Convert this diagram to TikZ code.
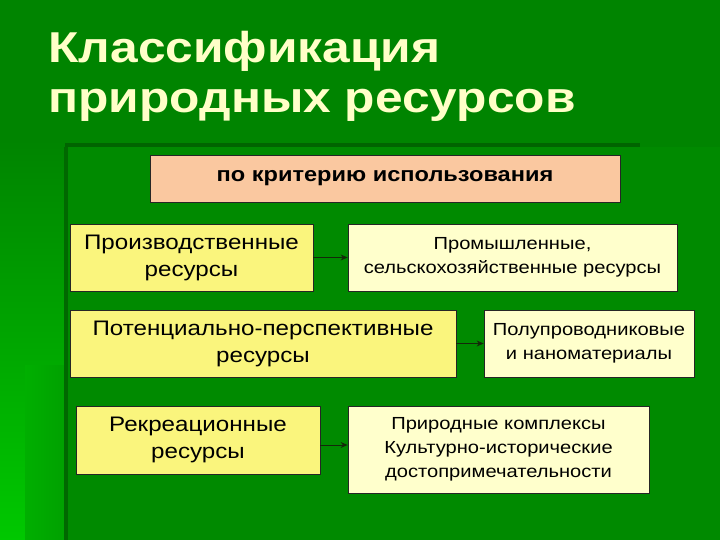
\documentclass[tikz,border=0pt]{standalone}
\usepackage{fontspec}
\setmainfont[FakeStretch=1.15]{Liberation Sans}
\usetikzlibrary{arrows.meta}
\definecolor{bgdark}{RGB}{0,132,0}
\definecolor{bgpanel}{RGB}{0,138,0}
\definecolor{bgline}{RGB}{0,100,0}
\definecolor{bgbright}{RGB}{0,200,0}
\definecolor{bgmid}{RGB}{0,175,0}
\definecolor{bgmid2}{RGB}{0,160,0}
\definecolor{titlecol}{RGB}{255,255,200}
\definecolor{peach}{RGB}{250,200,160}
\definecolor{yel}{RGB}{250,245,125}
\definecolor{lyel}{RGB}{255,255,204}
\definecolor{arrowcol}{RGB}{20,40,10}
\tikzset{
  box/.style={draw=black!85, line width=0.8pt, rectangle, align=center, inner sep=2pt},
  lbox/.style={box, fill=yel, font=\fontsize{21}{27}\selectfont},
  rbox/.style={box, fill=lyel, font=\fontsize{17.5}{24}\selectfont},
  headbox/.style={box, fill=peach, font=\bfseries\fontsize{20.5}{24}\selectfont},
  conn/.style={draw=arrowcol, line width=1pt, -{Stealth[length=7pt,width=6pt]}},
  titletext/.style={anchor=base west, text=titlecol, font=\bfseries\fontsize{43.2}{50}\selectfont}
}
\begin{document}
\begin{tikzpicture}[x=1pt,y=-1pt]
\useasboundingbox (0,0) rectangle (720,540);
% background
\fill[bgdark] (0,0) rectangle (720,540);
\shade[top color=bgdark, bottom color=bgbright] (0,140) rectangle (67,540);
\shade[left color=bgmid, right color=bgmid2] (25,365) rectangle (67,540);
\fill[bgpanel] (67,147) rectangle (720,540);
\fill[bgline] (65,143) rectangle (640,147);
\fill[bgline!90!bgpanel] (64,147) rectangle (68,540);
% title
\node[titletext] (t1) at (45,63) {Классификация};
\node[titletext] (t2) at (45,113) {природных ресурсов};
% boxes
\node[headbox, minimum width=470pt, minimum height=47pt] (head) at (385,178.5) {по критерию использования};
\node[lbox, minimum width=243pt, minimum height=67pt] (l1) at (191.5,257.5) {Производственные\\ресурсы};
\node[rbox, minimum width=329pt, minimum height=67pt] (r1) at (512.5,257.5) {Промышленные,\\сельскохозяйственные ресурсы};
\node[lbox, minimum width=386pt, minimum height=67pt] (l2) at (263,343.5) {Потенциально-перспективные\\ресурсы};
\node[rbox, minimum width=210pt, minimum height=67pt] (r2) at (589,343.5) {Полупроводниковые\\и наноматериалы};
\node[lbox, minimum width=244pt, minimum height=68pt] (l3) at (198,440) {Рекреационные\\ресурсы};
\node[rbox, minimum width=301pt, minimum height=87pt] (r3) at (498.5,449.5) {Природные комплексы\\Культурно-исторические\\достопримечательности};
% connectors
\draw[conn] (l1.east) -- (l1.east -| r1.west);
\draw[conn] (l2.east) -- (l2.east -| r2.west);
\draw[conn] ([yshift=-5pt]l3.east) -- ([yshift=-5pt]l3.east -| r3.west);
\end{tikzpicture}
\end{document}
